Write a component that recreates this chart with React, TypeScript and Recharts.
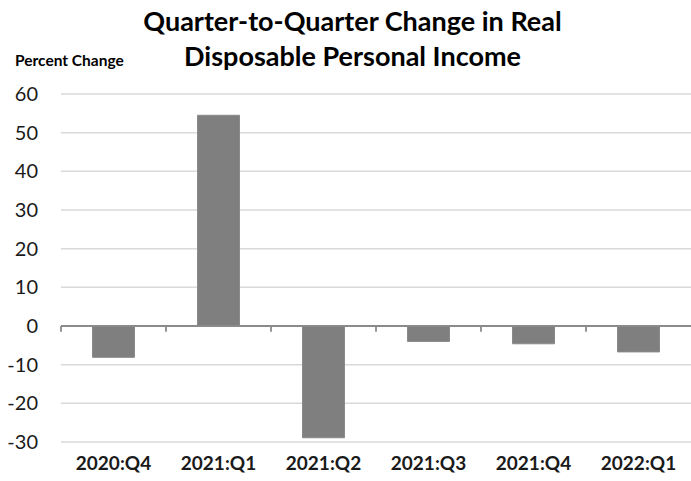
import React from 'react';
import { BarChart, Bar, XAxis, YAxis, CartesianGrid, ReferenceLine } from 'recharts';

const categories = ['2020:Q4', '2021:Q1', '2021:Q2', '2021:Q3', '2021:Q4', '2022:Q1'];
const values = [-8.1, 54.5, -28.9, -4.0, -4.6, -6.7];
const yTicks = [-30, -20, -10, 0, 10, 20, 30, 40, 50, 60];
const titleLines = ['Quarter-to-Quarter Change in Real', 'Disposable Personal Income'];
const yAxisTitle = 'Percent Change';

const data = categories.map((c, i) => ({ quarter: c, change: values[i] }));

const FONT = 'Lato, "Open Sans", sans-serif';

export default function App() {
  return (
    <div style={{ position: 'absolute', left: 0, top: 0, width: 691, height: 481, background: '#fff', fontFamily: FONT }}>
      <div style={{ position: 'absolute', left: 0, width: 705, top: 3, textAlign: 'center', fontWeight: 700, fontSize: 27, lineHeight: '35px', color: '#000' }}>
        {titleLines.map((t) => (
          <div key={t}>{t}</div>
        ))}
      </div>
      <div style={{ position: 'absolute', left: 15, top: 51, fontWeight: 700, fontSize: 15.5, color: '#000' }}>{yAxisTitle}</div>
      <BarChart
        width={691}
        height={481}
        data={data}
        margin={{ top: 94, right: 0, bottom: 0, left: 0 }}
        barCategoryGap="30%"
      >
        <CartesianGrid vertical={false} stroke="#d9d9d9" strokeWidth={1.5} />
        <XAxis
          dataKey="quarter"
          axisLine={false}
          tickLine={false}
          tickSize={0}
          tickMargin={15}
          height={39}
          interval={0}
          tick={{ fill: '#1a1a1a', fontSize: 19, fontWeight: 700, fontFamily: FONT }}
        />
        <YAxis
          type="number"
          domain={[-30, 60]}
          ticks={yTicks}
          interval={0}
          width={61}
          axisLine={false}
          tickLine={false}
          tickSize={0}
          tickMargin={23}
          tick={{ fill: '#1a1a1a', fontSize: 20, fontFamily: FONT }}
        />
        <Bar dataKey="change" fill="#7f7f7f" stroke="#8a8a8a" strokeWidth={1} isAnimationActive={false} />
        <ReferenceLine y={0} stroke="#8a8a8a" strokeWidth={1.8} />
        {categories.map((c) => (
          <ReferenceLine
            key={c}
            segment={[{ x: c, y: 0 }, { x: c, y: -1.5 }]}
            position="start"
            stroke="#8a8a8a"
            strokeWidth={1.8}
          />
        ))}
      </BarChart>
    </div>
  );
}
